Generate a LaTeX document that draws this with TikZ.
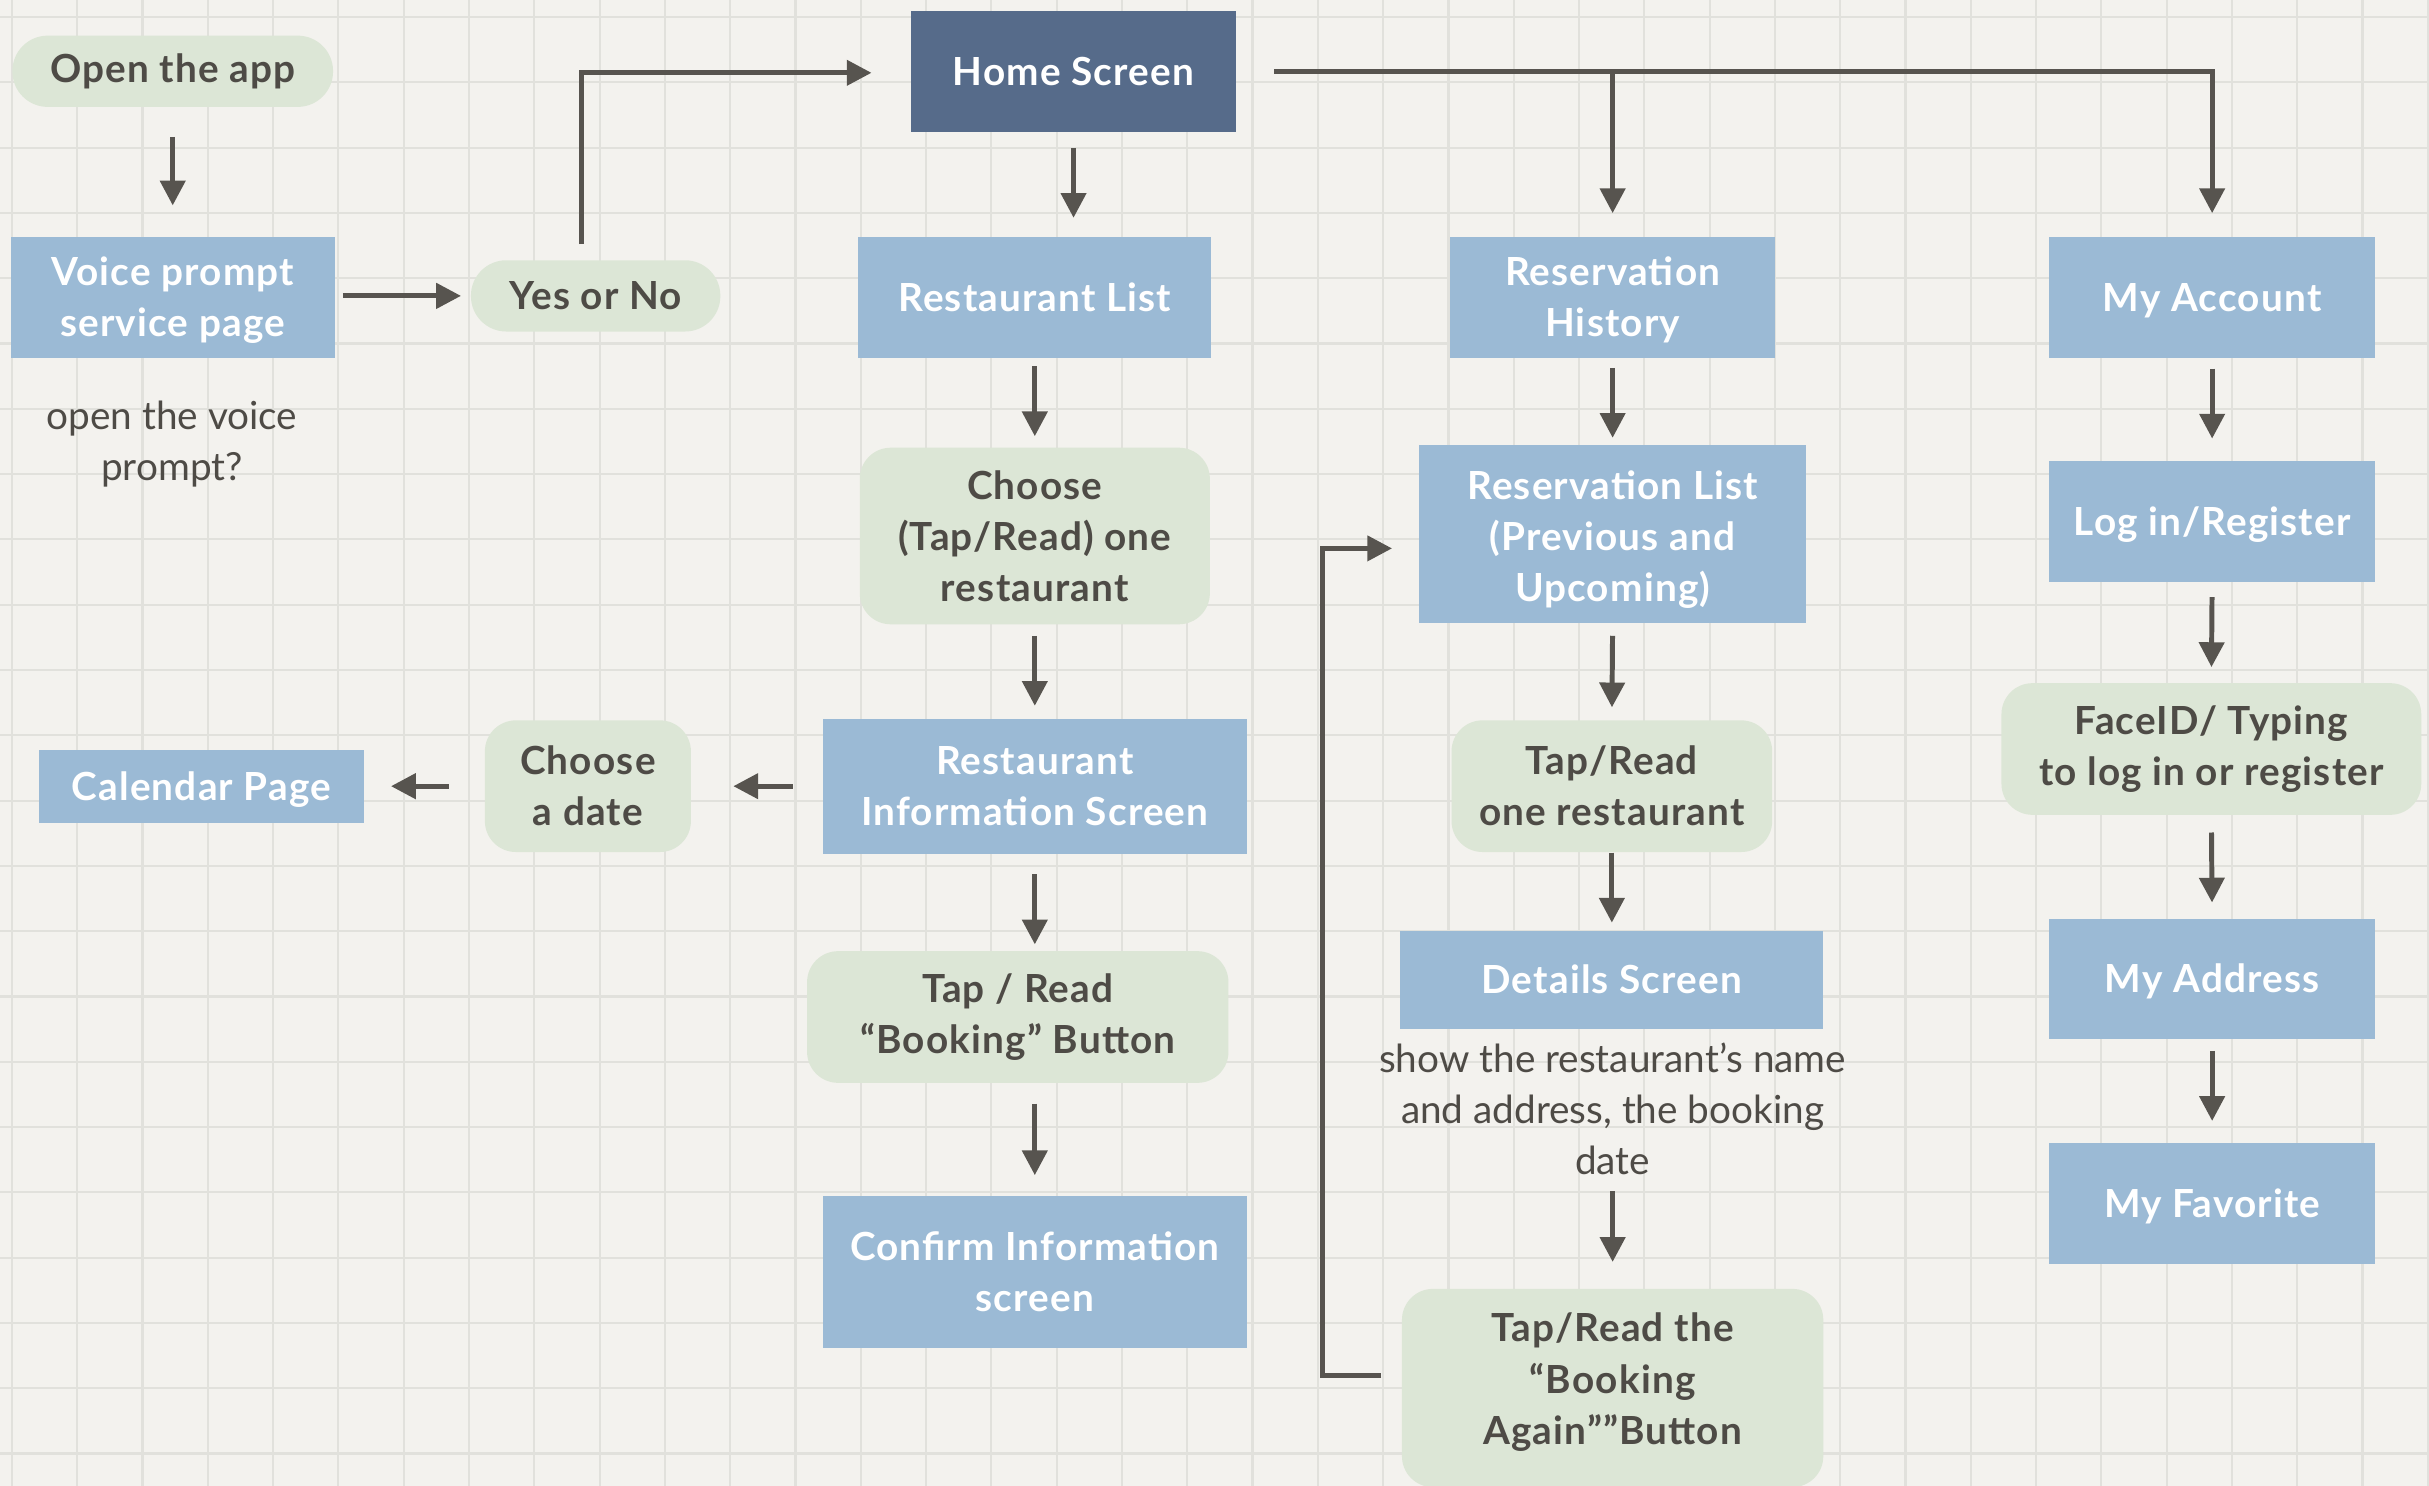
\documentclass[tikz,border=0pt]{standalone}
\usepackage{fontspec}
\setmainfont{Lato}[LetterSpace=3]
\newfontfamily\notefont{Lato}
\usetikzlibrary{arrows.meta}
\definecolor{bg}{HTML}{F3F2EE}
\definecolor{gridc}{HTML}{E1E1DC}
\definecolor{boxblue}{HTML}{9BBAD5}
\definecolor{homeblue}{HTML}{566B8A}
\definecolor{pillgreen}{HTML}{DCE6D6}
\definecolor{linec}{HTML}{57544F}
\definecolor{txt}{HTML}{4E4B46}
\tikzset{
  base/.style={align=center, inner sep=0pt, font=\fontsize{12.5}{16.5}\selectfont\bfseries},
  sz/.style 2 args={minimum width=#1*0.5pt, minimum height=#2*0.5pt},
  bluebox/.style={base, fill=boxblue, text=white, text height=9pt, text depth=0pt},
  homebox/.style={base, fill=homeblue, text=white, text height=9pt, text depth=0pt},
  twolines/.style={text height=25.5pt},
  threelines/.style={text height=44pt},
  pill/.style={base, fill=pillgreen, text=txt, rounded corners=10pt},
  roundpill/.style={base, fill=pillgreen, text=txt, rounded corners=11.4pt},
  note/.style={align=center, inner sep=0pt, text=txt, font=\notefont\fontsize{12.5}{16.5}\selectfont},
  flow/.style={draw=linec, line width=1.6pt, -{Triangle[length=8pt,width=8pt]}},
  gridline/.style={draw=gridc, line width=0.7pt},
}
\begin{document}
\begin{tikzpicture}[x=0.5pt, y={(0pt,-0.5pt)}]
\useasboundingbox (0,0) rectangle (1568,959);
\clip (0,0) rectangle (1568,959);
\fill[bg] (0,0) rectangle (1568,959);
\foreach \i in {0,...,37} \draw[gridline] (7.7+42.15*\i,0) -- (7.7+42.15*\i,959);
\foreach \i in {0,...,22} \draw[gridline] (0,11+42.15*\i) -- (1568,11+42.15*\i);

% column 1
\node[roundpill, sz={207}{46}] (open) at (111.5,46) {Open the app};
\node[bluebox, twolines, sz={209}{78}] (voice) at (111.5,192) {Voice prompt\\service page};
\node[note] (vnote) at (111,286.5) {open the voice\\prompt?};
\node[roundpill, sz={161}{46}] (yesno) at (384.5,191) {Yes or No};

% column 2
\node[homebox, sz={210}{78}] (home) at (693,46) {Home Screen};
\node[bluebox, sz={228}{78}] (rlist) at (668,192) {Restaurant List};
\node[pill, sz={226}{114}] (choose) at (668,346) {Choose\\(Tap/Read) one\\restaurant};
\node[bluebox, twolines, sz={274}{87}] (rinfo) at (668,507.5) {Restaurant\\Information Screen};
\node[pill, sz={133}{85}] (date) at (379.5,507.5) {Choose\\a date};
\node[bluebox, sz={210}{47}] (cal) at (130,507.5) {Calendar Page};
\node[pill, sz={272}{85}] (book) at (657,656.5) {Tap / Read\\“Booking” Button};
\node[bluebox, twolines, sz={274}{98}] (confirm) at (668,821) {Confirm Information\\screen};

% column 3
\node[bluebox, twolines, sz={210}{78}] (rhist) at (1041,192) {Reservation\\History};
\node[bluebox, threelines, sz={250}{115}] (rlistres) at (1041,344.5) {Reservation List\\(Previous and\\Upcoming)};
\node[pill, sz={207}{85}] (tapone) at (1040.5,507.5) {Tap/Read\\one restaurant};
\node[bluebox, sz={273}{63}] (details) at (1040.5,632.5) {Details Screen};
\node[note] (detnote) at (1041,716) {show the restaurant’s name\\and address, the booking\\date};
\node[pill, text depth=6pt, sz={272}{128}] (again) at (1041,896) {Tap/Read the\\“Booking\\Again””Button};

% column 4
\node[bluebox, sz={210}{78}] (acct) at (1428,192) {My Account};
\node[bluebox, sz={210}{78}] (login) at (1428,336.5) {Log in/Register};
\node[pill, sz={271}{85}] (faceid) at (1427.5,483.5) {FaceID/ Typing\\to log in or register};
\node[bluebox, sz={210}{78}] (addr) at (1428,632) {My Address};
\node[bluebox, sz={210}{78}] (fav) at (1428,777) {My Favorite};

\coordinate (loopx) at (854,0);

% connectors
\draw[flow, shorten <=9.5pt, shorten >=10pt] (open.south) -- (voice.north);
\draw[flow, shorten <=2.5pt, shorten >=3pt] ([yshift=0.5pt]voice.east) -- ([yshift=0.5pt]voice.east -| yesno.west);
\draw[flow] ([xshift=-4.5pt, yshift=5pt]yesno.north) |- ([xshift=-12.5pt, yshift=-0.5pt]home.west);
\draw[flow, shorten <=5pt, shorten >=6pt] (home.south) -- (home.south |- rlist.north);
\draw[flow, shorten <=12pt, shorten >=7.5pt] (home.east) -| (acct.north);
\draw[flow, shorten >=7.5pt] (home.east -| rhist.north) -- (rhist.north);
\draw[flow, shorten <=2.5pt, shorten >=3.5pt] (rlist.south) -- (choose.north);
\draw[flow, shorten <=3.5pt, shorten >=4pt] (choose.south) -- (rinfo.north);
\draw[flow, shorten <=9.5pt, shorten >=13.5pt] (rinfo.west) -- (date.east);
\draw[flow, shorten <=11.5pt, shorten >=8.5pt] (date.west) -- (cal.east);
\draw[flow, shorten <=6.5pt, shorten >=2pt] (rinfo.south) -- (rinfo.south |- book.north);
\draw[flow, shorten <=6.5pt, shorten >=6.5pt] (confirm.north |- book.south) -- (confirm.north);
\draw[flow, shorten <=3pt, shorten >=2pt] (rhist.south) -- (rlistres.north);
\draw[flow, shorten <=4pt, shorten >=4pt] (rlistres.south) -- (tapone.north);
\draw[flow, shorten >=2.5pt] (tapone.south) -- (details.north);
\draw[flow, shorten <=5pt, shorten >=8.5pt] (detnote.south) -- (again.north);
\draw[flow] ([xshift=-6.5pt, yshift=4pt]again.west) -- ([yshift=4pt]again.west -| loopx) |- ([xshift=-8.5pt, yshift=-4.75pt]rlistres.west);
\draw[flow, shorten <=3.25pt, shorten >=7pt] (acct.south) -- (login.north);
\draw[flow, shorten <=4.75pt, shorten >=5pt] (login.south) -- (faceid.north);
\draw[flow, shorten <=5.5pt, shorten >=5pt] (faceid.south) -- (addr.north);
\draw[flow, shorten <=3.5pt, shorten >=7pt] (addr.south) -- (fav.north);
\end{tikzpicture}
\end{document}
